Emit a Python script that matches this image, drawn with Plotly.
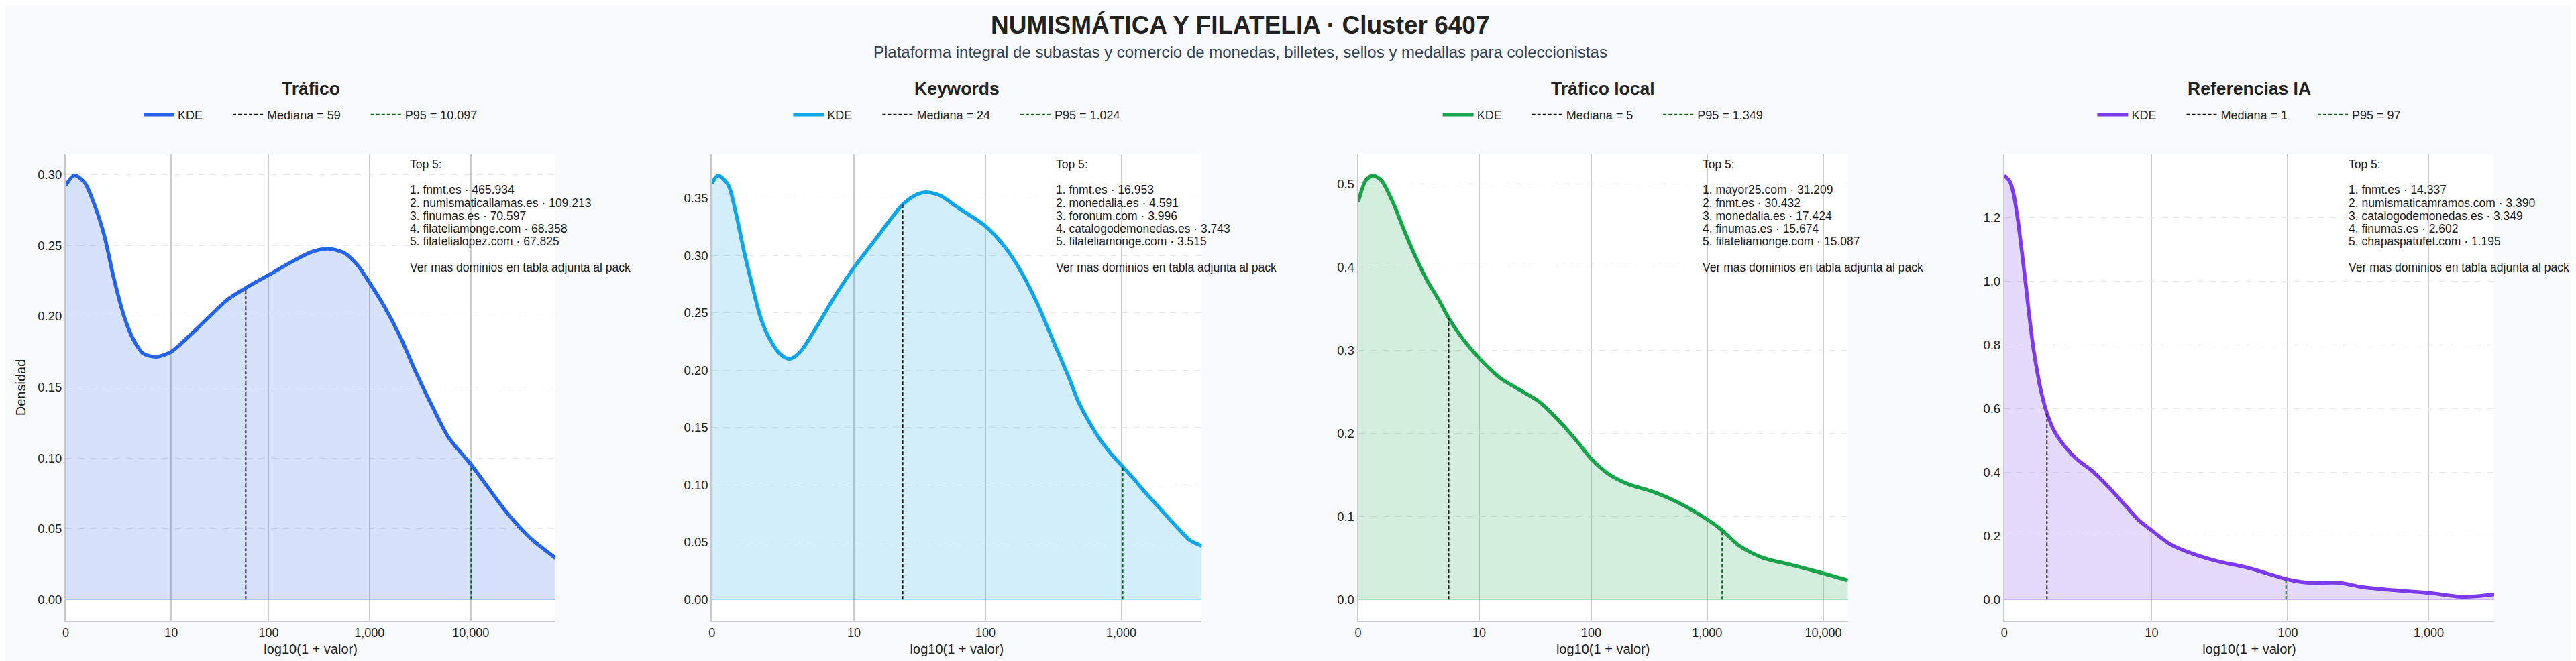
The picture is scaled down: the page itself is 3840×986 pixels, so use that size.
import numpy as np
import plotly.graph_objects as go
from plotly.subplots import make_subplots

TITLE = "NUMISMÁTICA Y FILATELIA · Cluster 6407"
SUBTITLE = "Plataforma integral de subastas y comercio de monedas, billetes, sellos y medallas para coleccionistas"

PANELS = ["Tráfico", "Keywords", "Tráfico local", "Referencias IA"]
COLORS = ["#2563eb", "#0ea5e9", "#16a34a", "#7c3aed"]

# KDE sobre log10(1 + valor)
TRAFICO_X = [0, 0.084, 0.186, 0.283, 0.379, 0.475, 0.572, 0.668, 0.765, 0.893, 1.041, 1.214,
             1.407, 1.6, 1.78, 2.005, 2.243, 2.435, 2.596, 2.757, 2.886, 3.0, 3.142, 3.302,
             3.463, 3.624, 3.785, 4.0, 4.17, 4.363, 4.588, 4.838]
TRAFICO_Y = [0.2924, 0.2996, 0.2946, 0.279, 0.2576, 0.227, 0.201, 0.1837, 0.1738, 0.1715, 0.175,
             0.1859, 0.199, 0.212, 0.2202, 0.2293, 0.239, 0.2457, 0.2478, 0.2446, 0.2359, 0.2239,
             0.2076, 0.1859, 0.1598, 0.1359, 0.1141, 0.0957, 0.0793, 0.0609, 0.0435, 0.0293]

KEYWORDS_X = [0, 0.044, 0.118, 0.176, 0.235, 0.294, 0.353, 0.412, 0.5, 0.568, 0.647, 0.765,
              0.912, 1.038, 1.206, 1.397, 1.5, 1.574, 1.676, 1.794, 2.0, 2.147, 2.265, 2.382,
              2.5, 2.618, 2.684, 2.766, 2.848, 2.93, 3.012, 3.094, 3.176, 3.258, 3.34, 3.423,
              3.505, 3.59]
KEYWORDS_Y = [0.363, 0.37, 0.362, 0.3368, 0.3037, 0.2745, 0.2473, 0.2298, 0.2142, 0.2099, 0.2161,
              0.2375, 0.2667, 0.2891, 0.3154, 0.3445, 0.3533, 0.3553, 0.3523, 0.3426, 0.3261,
              0.3076, 0.2862, 0.2589, 0.2259, 0.193, 0.173, 0.1547, 0.139, 0.1265, 0.1158, 0.105,
              0.0934, 0.0827, 0.072, 0.0613, 0.0516, 0.0467]

LOCAL_X = [0, 0.066, 0.126, 0.199, 0.298, 0.397, 0.497, 0.596, 0.695, 0.778, 0.894, 1.043,
           1.225, 1.391, 1.556, 1.722, 1.887, 2.003, 2.152, 2.318, 2.55, 2.748, 2.997, 3.129,
           3.278, 3.477, 3.709, 4.0, 4.212]
LOCAL_Y = [0.478, 0.504, 0.51, 0.504, 0.478, 0.4435, 0.411, 0.383, 0.36, 0.3387, 0.3145, 0.29,
           0.266, 0.252, 0.238, 0.2157, 0.1895, 0.1694, 0.151, 0.139, 0.129, 0.117, 0.0968,
           0.0835, 0.0645, 0.0504, 0.0423, 0.0315, 0.023]

IA_X = [0, 0.041, 0.068, 0.095, 0.122, 0.15, 0.177, 0.204, 0.231, 0.259, 0.3, 0.354, 0.436,
        0.517, 0.626, 0.735, 0.844, 0.953, 1.043, 1.171, 1.307, 1.497, 1.715, 1.879, 2.0,
        2.151, 2.369, 2.532, 2.75, 3.0, 3.24, 3.463]
IA_Y = [1.332, 1.311, 1.268, 1.194, 1.099, 0.994, 0.888, 0.793, 0.719, 0.655, 0.587, 0.5285,
        0.476, 0.439, 0.402, 0.354, 0.301, 0.248, 0.2167, 0.1744, 0.148, 0.1216, 0.1004,
        0.0793, 0.0634, 0.0529, 0.0529, 0.0391, 0.0296, 0.0211, 0.0085, 0.0159]

KDE_X = [TRAFICO_X, KEYWORDS_X, LOCAL_X, IA_X]
KDE_Y = [TRAFICO_Y, KEYWORDS_Y, LOCAL_Y, IA_Y]

MEDIANS = [59, 24, 5, 1]
P95 = [10097, 1024, 1349, 97]

TOP5_TRAFICO = [("fnmt.es", 465934), ("numismaticallamas.es", 109213), ("finumas.es", 70597),
                ("filateliamonge.com", 68358), ("filatelialopez.com", 67825)]
TOP5_KEYWORDS = [("fnmt.es", 16953), ("monedalia.es", 4591), ("foronum.com", 3996),
                 ("catalogodemonedas.es", 3743), ("filateliamonge.com", 3515)]
TOP5_LOCAL = [("mayor25.com", 31209), ("fnmt.es", 30432), ("monedalia.es", 17424),
              ("finumas.es", 15674), ("filateliamonge.com", 15087)]
TOP5_IA = [("fnmt.es", 14337), ("numismaticamramos.com", 3390), ("catalogodemonedas.es", 3349),
           ("finumas.es", 2602), ("chapaspatufet.com", 1195)]
TOP5 = [TOP5_TRAFICO, TOP5_KEYWORDS, TOP5_LOCAL, TOP5_IA]

TICK_VALUES = [0, 10, 100, 1000, 10000]
Y_DTICK = [0.05, 0.05, 0.1, 0.2]
Y_FORMAT = [".2f", ".2f", ".1f", ".1f"]

FONT = "Liberation Sans, Arial, Helvetica, sans-serif"
PAD = "\u00a0" * 7  # hueco entre entradas de la leyenda


def fmt_es(n):
    return f"{n:,}".replace(",", ".")


def rgba(hex_color, alpha):
    h = hex_color.lstrip("#")
    r, g, b = int(h[0:2], 16), int(h[2:4], 16), int(h[4:6], 16)
    return f"rgba({r},{g},{b},{alpha})"


def main():
    fig = make_subplots(rows=1, cols=4, horizontal_spacing=0.0644)

    # plot area: 222px (top) .. 918px (bottom)
    def py(real):
        return (918 - real) / 696

    annotations = [
        dict(text=f"<b>{TITLE}</b>", x=0.4838, y=py(30), xref="paper", yref="paper",
             xanchor="center", yanchor="middle", showarrow=False,
             font=dict(size=37, color="#222222")),
        dict(text=SUBTITLE, x=0.4838, y=py(70), xref="paper", yref="paper",
             xanchor="center", yanchor="middle", showarrow=False,
             font=dict(size=24, color="#334155")),
    ]

    for i, name in enumerate(PANELS):
        col = i + 1
        color = COLORS[i]
        xs, ys = KDE_X[i], KDE_Y[i]
        leg = "legend" if i == 0 else f"legend{col}"
        suffix = "" if i == 0 else str(col)

        fig.add_trace(go.Scatter(
            x=xs, y=ys, mode="lines", fill="tozeroy", fillcolor=rgba(color, 0.19),
            line=dict(width=0, shape="spline", smoothing=0.8),
            showlegend=False, hoverinfo="skip"), row=1, col=col)
        fig.add_trace(go.Scatter(
            x=xs, y=ys, mode="lines", name="KDE" + PAD, legend=leg,
            line=dict(color=color, width=5.5, shape="spline", smoothing=0.8)), row=1, col=col)

        mx = np.log10(1 + MEDIANS[i])
        fig.add_trace(go.Scatter(
            x=[mx, mx], y=[0, float(np.interp(mx, xs, ys))], mode="lines",
            name=f"Mediana = {fmt_es(MEDIANS[i])}" + PAD, legend=leg,
            line=dict(color="#111111", width=2, dash="5px,3px")), row=1, col=col)
        px95 = np.log10(1 + P95[i])
        fig.add_trace(go.Scatter(
            x=[px95, px95], y=[0, float(np.interp(px95, xs, ys))], mode="lines",
            name=f"P95 = {fmt_es(P95[i])}", legend=leg,
            line=dict(color="#0b6b1d", width=2, dash="5px,3px")), row=1, col=col)

        ymax = max(ys)
        fig.update_xaxes(
            range=[0, xs[-1]], tickvals=[np.log10(1 + v) for v in TICK_VALUES],
            ticktext=[f"{v:,}" for v in TICK_VALUES],
            showgrid=True, gridcolor="#cccccc", gridwidth=1.5,
            showline=True, linecolor="#c8c8c8", linewidth=2, ticks="", zeroline=False,
            tickfont=dict(size=18, color="#222222"),
            title=dict(text="log10(1 + valor)", font=dict(size=20, color="#222222"), standoff=8),
            row=1, col=col)
        fig.update_yaxes(
            range=[-0.05 * ymax, 1.05 * ymax], dtick=Y_DTICK[i], tickformat=Y_FORMAT[i],
            showgrid=True, gridcolor="#e8e8e8", griddash="dash", gridwidth=1,
            showline=True, linecolor="#c8c8c8", linewidth=2, ticks="",
            zeroline=True, zerolinecolor=rgba(color, 0.35), zerolinewidth=2,
            tickfont=dict(size=18.5, color="#222222"),
            row=1, col=col)

        dom = fig.layout[f"xaxis{suffix}"].domain
        center = (dom[0] + dom[1]) / 2
        annotations.append(dict(
            text=f"<b>{name}</b>", x=center, y=py(124), xref="paper", yref="paper",
            xanchor="center", yanchor="middle", showarrow=False,
            font=dict(size=26.5, color="#222222")))

        fig.update_layout({leg: dict(
            orientation="h", x=center, y=py(163), xref="paper", yref="paper",
            xanchor="center", yanchor="middle", bgcolor="rgba(0,0,0,0)",
            itemwidth=46, font=dict(size=18, color="#222222"))})

        lines = ["Top 5:", ""]
        lines += [f"{k + 1}. {dom_name} · {fmt_es(val)}" for k, (dom_name, val) in enumerate(TOP5[i])]
        lines += ["", "Ver mas dominios en tabla adjunta al pack"]
        for k, line in enumerate(lines):
            if not line:
                continue
            annotations.append(dict(
                text=line, x=0.70, y=1, xref=f"x{suffix} domain", yref=f"y{suffix} domain",
                xanchor="left", yanchor="middle", yshift=-(15 + k * 19.2), showarrow=False,
                font=dict(size=17.5, color="#1a1a1a")))

    fig.update_yaxes(title=dict(text="Densidad", font=dict(size=20, color="#222222"), standoff=12),
                     row=1, col=1)

    fig.update_layout(
        width=3840, height=986,
        margin=dict(l=90, r=130, t=222, b=68),
        paper_bgcolor="#f8fafc", plot_bgcolor="#ffffff",
        font=dict(family=FONT, color="#222222"),
        annotations=annotations,
    )
    fig.write_html("out.html")


if __name__ == "__main__":
    main()
